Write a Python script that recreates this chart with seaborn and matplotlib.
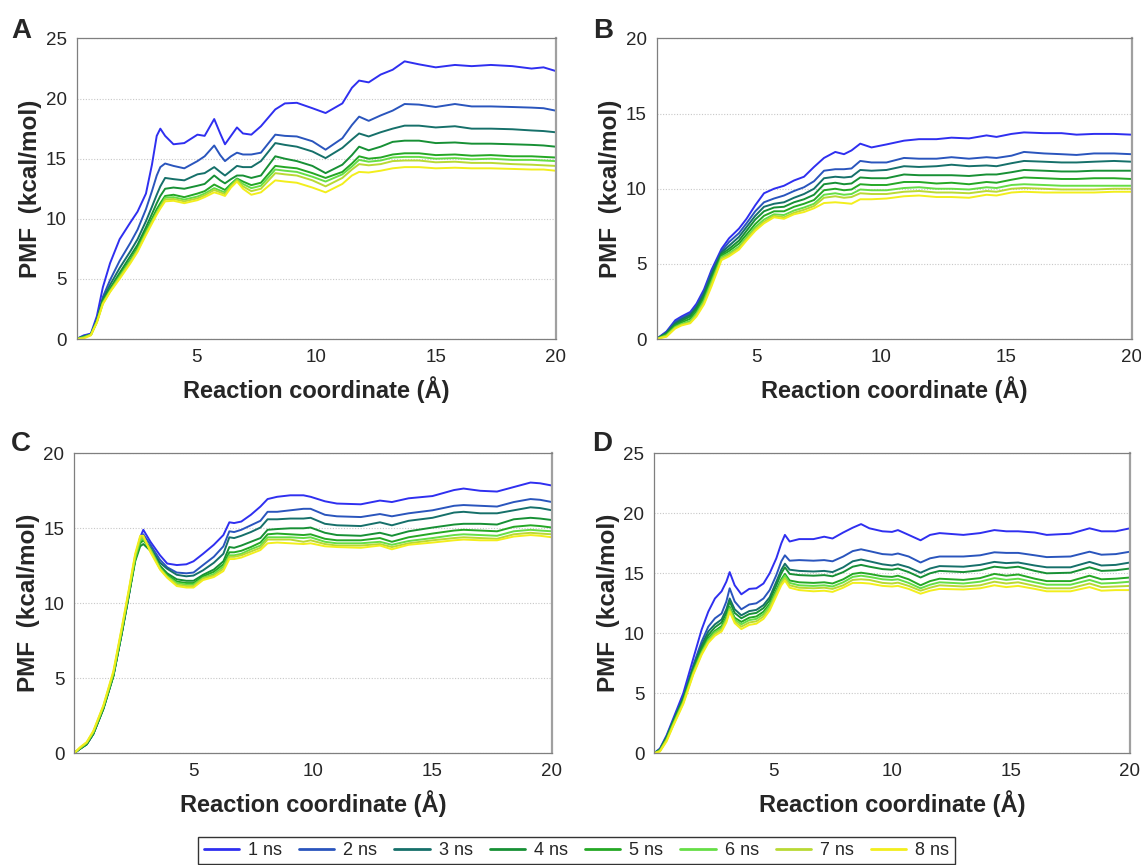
import pandas as pd
import matplotlib
matplotlib.use("Agg")
import matplotlib.pyplot as plt
import seaborn as sns

series = ['1 ns', '2 ns', '3 ns', '4 ns', '5 ns', '6 ns', '7 ns', '8 ns']
colores = ['#2f2ff0', '#2a55bd', '#16706a', '#179035', '#25a825', '#66de46', '#b9d934', '#f2ee1c']

# Panel A
xa = [0.0, 0.3, 0.6, 0.85, 1.1, 1.4, 1.8, 2.25, 2.55, 2.9, 3.15, 3.35, 3.5, 3.7, 4.05, 4.5,
      5.05, 5.35, 5.75, 6.0, 6.2, 6.45, 6.7, 6.95, 7.3, 7.7, 8.3, 8.7, 9.2, 9.85, 10.4, 11.1,
      11.5, 11.8, 12.2, 12.7, 13.2, 13.7, 14.3, 15.0, 15.8, 16.5, 17.3, 18.2, 19.0, 19.5, 20.0]
a_1ns = [0.0, 0.3, 0.45, 1.9, 4.3, 6.3, 8.3, 9.7, 10.6, 12.1, 14.5, 16.9, 17.5, 16.9, 16.2, 16.3,
         17.0, 16.9, 18.3, 17.1, 16.2, 16.9, 17.6, 17.1, 17.0, 17.7, 19.1, 19.6, 19.65, 19.2, 18.8, 19.6,
         20.9, 21.5, 21.35, 22.0, 22.4, 23.1, 22.85, 22.6, 22.8, 22.7, 22.8, 22.7, 22.5, 22.6, 22.3]
a_2ns = [0.0, 0.25, 0.4, 1.6, 3.5, 4.9, 6.5, 8.0, 9.1, 10.8, 12.3, 13.6, 14.3, 14.6, 14.4, 14.2,
         14.8, 15.2, 16.1, 15.3, 14.8, 15.2, 15.5, 15.35, 15.35, 15.5, 17.0, 16.9, 16.85, 16.45, 15.75, 16.7,
         17.8, 18.5, 18.15, 18.6, 19.0, 19.55, 19.5, 19.3, 19.55, 19.35, 19.35, 19.3, 19.25, 19.2, 19.0]
a_3ns = [0.0, 0.2, 0.35, 1.5, 3.3, 4.5, 5.9, 7.3, 8.3, 9.8, 11.0, 12.0, 12.7, 13.4, 13.3, 13.2,
         13.7, 13.8, 14.3, 13.9, 13.6, 14.0, 14.4, 14.3, 14.3, 14.8, 16.3, 16.15, 16.0, 15.6, 15.05, 15.9,
         16.6, 17.1, 16.85, 17.2, 17.5, 17.75, 17.75, 17.6, 17.7, 17.5, 17.5, 17.45, 17.35, 17.3, 17.2]
a_4ns = [0.0, 0.2, 0.35, 1.5, 3.2, 4.2, 5.5, 6.9, 7.85, 9.3, 10.4, 11.3, 11.9, 12.5, 12.6, 12.5,
         12.75, 12.9, 13.6, 13.2, 12.95, 13.3, 13.6, 13.6, 13.4, 13.6, 15.2, 15.0, 14.8, 14.4, 13.8, 14.5,
         15.3, 16.0, 15.7, 16.0, 16.4, 16.5, 16.5, 16.3, 16.35, 16.25, 16.25, 16.2, 16.15, 16.1, 16.0]
a_5ns = [0.0, 0.15, 0.35, 1.45, 3.1, 4.1, 5.3, 6.6, 7.6, 9.0, 10.0, 10.8, 11.3, 11.9, 12.0, 11.8,
         12.1, 12.3, 12.85, 12.6, 12.4, 12.9, 13.35, 13.1, 12.8, 13.0, 14.4, 14.3, 14.2, 13.8, 13.4, 13.9,
         14.6, 15.2, 15.0, 15.1, 15.35, 15.45, 15.45, 15.3, 15.35, 15.25, 15.3, 15.2, 15.2, 15.15, 15.1]
a_6ns = [0.0, 0.15, 0.35, 1.45, 3.0, 4.0, 5.2, 6.5, 7.45, 8.85, 9.8, 10.55, 11.05, 11.75, 11.8, 11.6,
         11.85, 12.1, 12.55, 12.35, 12.2, 12.8, 13.3, 12.9, 12.55, 12.75, 14.1, 14.0, 13.9, 13.5, 13.1, 13.7,
         14.35, 14.9, 14.75, 14.85, 15.1, 15.15, 15.15, 15.0, 15.05, 14.95, 15.0, 14.9, 14.9, 14.85, 14.8]
a_7ns = [0.0, 0.1, 0.35, 1.4, 2.95, 3.95, 5.1, 6.4, 7.35, 8.75, 9.7, 10.45, 10.95, 11.6, 11.65, 11.45,
         11.7, 11.95, 12.4, 12.2, 12.05, 12.7, 13.2, 12.7, 12.3, 12.5, 13.8, 13.7, 13.6, 13.2, 12.7, 13.4,
         14.1, 14.55, 14.45, 14.55, 14.8, 14.85, 14.85, 14.7, 14.75, 14.65, 14.65, 14.55, 14.5, 14.45, 14.4]
a_8ns = [0.0, 0.05, 0.3, 1.35, 2.9, 3.9, 5.0, 6.3, 7.25, 8.65, 9.6, 10.35, 10.85, 11.45, 11.5, 11.3,
         11.55, 11.8, 12.2, 12.05, 11.9, 12.6, 13.1, 12.5, 12.0, 12.2, 13.2, 13.1, 13.0, 12.6, 12.2, 12.9,
         13.6, 13.9, 13.85, 14.0, 14.2, 14.3, 14.3, 14.2, 14.25, 14.2, 14.2, 14.15, 14.1, 14.1, 14.0]

# Panel B
xb = [1.0, 1.4, 1.75, 2.0, 2.35, 2.6, 2.9, 3.2, 3.6, 3.9, 4.3, 4.6, 4.95, 5.3, 5.7, 6.1, 6.5, 6.9,
      7.3, 7.7, 8.15, 8.5, 8.8, 9.15, 9.6, 10.2, 10.9, 11.5, 12.2, 12.8, 13.5, 14.2, 14.6, 15.2,
      15.7, 16.5, 17.2, 17.8, 18.5, 19.3, 20.0]
b_1ns = [0, 0.5, 1.25, 1.5, 1.8, 2.35, 3.3, 4.6, 6.0, 6.7, 7.35, 8.0, 8.9, 9.7, 10.0, 10.2, 10.55, 10.8,
         11.45, 12.05, 12.45, 12.3, 12.55, 13.0, 12.75, 12.95, 13.2, 13.3, 13.3, 13.4, 13.35, 13.55, 13.45,
         13.65, 13.75, 13.7, 13.7, 13.6, 13.65, 13.65, 13.6]
b_2ns = [0, 0.45, 1.15, 1.4, 1.7, 2.2, 3.15, 4.45, 5.85, 6.45, 7.05, 7.7, 8.5, 9.1, 9.35, 9.55, 9.85, 10.1,
         10.5, 11.2, 11.3, 11.3, 11.35, 11.85, 11.75, 11.75, 12.05, 12.0, 12.0, 12.1, 12.0, 12.1, 12.05,
         12.2, 12.45, 12.35, 12.3, 12.25, 12.35, 12.35, 12.3]
b_3ns = [0, 0.4, 1.05, 1.3, 1.6, 2.1, 3.0, 4.3, 5.75, 6.2, 6.8, 7.45, 8.2, 8.8, 9.0, 9.1, 9.4, 9.65,
         10.0, 10.7, 10.8, 10.75, 10.8, 11.25, 11.2, 11.25, 11.5, 11.45, 11.5, 11.6, 11.5, 11.55, 11.5,
         11.7, 11.85, 11.8, 11.75, 11.75, 11.8, 11.85, 11.8]
b_4ns = [0, 0.35, 0.95, 1.2, 1.5, 2.0, 2.85, 4.1, 5.65, 6.0, 6.55, 7.2, 7.95, 8.5, 8.75, 8.8, 9.1, 9.3,
         9.6, 10.3, 10.4, 10.3, 10.35, 10.75, 10.7, 10.7, 10.95, 10.9, 10.9, 10.9, 10.85, 10.95, 10.95,
         11.1, 11.25, 11.2, 11.15, 11.15, 11.2, 11.2, 11.2]
b_5ns = [0, 0.3, 0.9, 1.1, 1.35, 1.85, 2.7, 3.95, 5.55, 5.85, 6.35, 6.95, 7.65, 8.2, 8.5, 8.5, 8.8, 9.0,
         9.25, 9.9, 10.0, 9.9, 9.95, 10.3, 10.25, 10.25, 10.45, 10.45, 10.35, 10.4, 10.3, 10.45, 10.4,
         10.6, 10.75, 10.7, 10.65, 10.65, 10.7, 10.7, 10.65]
b_6ns = [0, 0.25, 0.8, 1.0, 1.2, 1.7, 2.55, 3.8, 5.45, 5.7, 6.15, 6.75, 7.45, 7.95, 8.3, 8.25, 8.55, 8.75,
         9.0, 9.6, 9.7, 9.6, 9.65, 9.95, 9.9, 9.9, 10.05, 10.1, 10.0, 10.0, 9.95, 10.1, 10.05,
         10.25, 10.3, 10.25, 10.2, 10.2, 10.2, 10.2, 10.2]
b_7ns = [0, 0.2, 0.75, 0.95, 1.1, 1.6, 2.4, 3.65, 5.35, 5.6, 6.05, 6.65, 7.3, 7.8, 8.2, 8.1, 8.4, 8.6,
         8.85, 9.4, 9.5, 9.4, 9.45, 9.7, 9.65, 9.65, 9.8, 9.85, 9.75, 9.75, 9.7, 9.85, 9.8,
         10.0, 10.05, 10.0, 9.95, 9.95, 9.95, 10.0, 10.0]
b_8ns = [0, 0.15, 0.7, 0.9, 1.05, 1.5, 2.3, 3.5, 5.25, 5.5, 5.95, 6.55, 7.2, 7.7, 8.1, 8.0, 8.3, 8.45,
         8.7, 9.05, 9.1, 9.05, 9.0, 9.3, 9.3, 9.35, 9.5, 9.55, 9.45, 9.45, 9.4, 9.6, 9.55,
         9.75, 9.8, 9.75, 9.75, 9.75, 9.75, 9.8, 9.8]

# Panel C
xc = [0.0, 0.25, 0.53, 0.81, 1.23, 1.65, 2.0, 2.28, 2.56, 2.77, 2.9, 3.2, 3.6, 3.9, 4.3, 4.7, 5.0,
      5.4, 5.85, 6.25, 6.5, 6.7, 7.0, 7.4, 7.8, 8.1, 8.5, 9.05, 9.6, 9.9, 10.5, 11.0, 12.0, 12.8,
      13.3, 14.0, 15.0, 15.9, 16.3, 17.0, 17.7, 18.4, 19.1, 19.5, 20.0]
c_1ns = [0, 0.3, 0.6, 1.3, 3.0, 5.2, 8.0, 10.4, 13.0, 14.4, 14.9, 14.1, 13.2, 12.65, 12.55, 12.6, 12.8,
         13.3, 13.9, 14.55, 15.4, 15.35, 15.45, 15.9, 16.45, 16.95, 17.1, 17.2, 17.2, 17.1, 16.8, 16.65,
         16.6, 16.85, 16.75, 17.0, 17.15, 17.55, 17.65, 17.5, 17.45, 17.75, 18.05, 18.0, 17.85]
c_2ns = [0, 0.3, 0.6, 1.3, 3.0, 5.2, 8.05, 10.45, 13.0, 14.3, 14.6, 13.9, 12.9, 12.4, 12.05, 12.0, 12.05,
         12.55, 13.1, 13.8, 14.8, 14.75, 14.9, 15.2, 15.5, 16.1, 16.1, 16.2, 16.3, 16.3, 15.9, 15.8,
         15.75, 15.95, 15.8, 16.0, 16.2, 16.5, 16.55, 16.5, 16.45, 16.75, 16.95, 16.9, 16.75]
c_3ns = [0, 0.3, 0.6, 1.3, 3.0, 5.2, 8.05, 10.45, 12.95, 14.2, 14.3, 13.7, 12.7, 12.3, 11.9, 11.8, 11.85,
         12.2, 12.7, 13.3, 14.4, 14.35, 14.5, 14.75, 15.05, 15.6, 15.6, 15.65, 15.65, 15.7, 15.3, 15.2,
         15.15, 15.4, 15.2, 15.5, 15.7, 16.05, 16.1, 16.0, 16.0, 16.2, 16.4, 16.35, 16.2]
c_4ns = [0, 0.3, 0.6, 1.3, 2.95, 5.15, 8.0, 10.4, 12.8, 13.8, 13.95, 13.5, 12.5, 12.0, 11.6, 11.5, 11.5,
         11.9, 12.25, 12.8, 13.75, 13.7, 13.85, 14.1, 14.35, 14.9, 14.95, 15.0, 15.0, 15.05, 14.7, 14.55,
         14.5, 14.7, 14.5, 14.8, 15.05, 15.25, 15.3, 15.3, 15.25, 15.6, 15.7, 15.65, 15.55]
c_5ns = [0, 0.3, 0.65, 1.35, 3.05, 5.25, 8.1, 10.5, 12.9, 14.0, 14.2, 13.6, 12.4, 11.9, 11.45, 11.35, 11.35,
         11.8, 12.1, 12.6, 13.4, 13.4, 13.5, 13.75, 14.05, 14.6, 14.65, 14.6, 14.55, 14.6, 14.3, 14.2,
         14.2, 14.35, 14.1, 14.4, 14.65, 14.85, 14.9, 14.85, 14.8, 15.1, 15.2, 15.15, 15.05]
c_6ns = [0, 0.35, 0.7, 1.4, 3.1, 5.3, 8.2, 10.6, 13.0, 14.2, 14.3, 13.6, 12.35, 11.8, 11.35, 11.25, 11.25,
         11.7, 11.95, 12.45, 13.2, 13.2, 13.3, 13.6, 13.85, 14.4, 14.4, 14.4, 14.35, 14.4, 14.1, 14.0,
         14.0, 14.1, 13.9, 14.15, 14.35, 14.55, 14.6, 14.55, 14.5, 14.8, 14.9, 14.85, 14.8]
c_7ns = [0, 0.35, 0.7, 1.45, 3.15, 5.4, 8.3, 10.7, 13.2, 14.35, 14.4, 13.5, 12.3, 11.75, 11.25, 11.15, 11.15,
         11.65, 11.85, 12.3, 13.1, 13.1, 13.2, 13.45, 13.7, 14.25, 14.25, 14.25, 14.1, 14.2, 13.95, 13.85,
         13.85, 13.95, 13.75, 14.0, 14.2, 14.35, 14.4, 14.35, 14.3, 14.6, 14.7, 14.65, 14.6]
c_8ns = [0, 0.4, 0.75, 1.5, 3.2, 5.5, 8.4, 10.8, 13.3, 14.5, 14.5, 13.4, 12.25, 11.7, 11.15, 11.05, 11.05,
         11.55, 11.75, 12.15, 12.95, 12.95, 13.05, 13.3, 13.55, 14.0, 14.05, 14.0, 13.95, 14.0, 13.8, 13.75,
         13.7, 13.85, 13.6, 13.9, 14.05, 14.2, 14.25, 14.2, 14.2, 14.45, 14.55, 14.5, 14.4]

# Panel D
xd = [0.0, 0.25, 0.53, 0.81, 1.23, 1.65, 2.0, 2.28, 2.56, 2.84, 3.04, 3.18, 3.39, 3.67, 4.0, 4.3,
      4.6, 4.86, 5.14, 5.35, 5.5, 5.7, 6.1, 6.7, 7.15, 7.5, 7.95, 8.35, 8.7, 9.05, 9.6, 10.0, 10.25,
      10.7, 11.2, 11.6, 12.0, 13.0, 13.7, 14.3, 14.8, 15.3, 16.0, 16.5, 17.5, 18.3, 18.8, 19.4, 20.0]
d_1ns = [0, 0.4, 1.5, 2.9, 5.0, 7.9, 10.3, 11.8, 12.9, 13.5, 14.3, 15.1, 14.0, 13.25, 13.7, 13.75,
         14.15, 15.0, 16.25, 17.5, 18.2, 17.65, 17.85, 17.85, 18.05, 17.9, 18.4, 18.8, 19.1, 18.75, 18.5,
         18.45, 18.6, 18.2, 17.75, 18.2, 18.35, 18.2, 18.35, 18.6, 18.5, 18.5, 18.4, 18.2, 18.3, 18.75,
         18.5, 18.5, 18.75]
d_2ns = [0, 0.35, 1.4, 2.75, 4.7, 7.35, 9.3, 10.55, 11.25, 11.65, 12.65, 13.75, 12.65, 12.0, 12.4, 12.5,
         12.9, 13.6, 14.85, 16.0, 16.5, 16.05, 16.1, 16.05, 16.1, 16.0, 16.4, 16.85, 17.0, 16.85, 16.6,
         16.55, 16.65, 16.4, 15.9, 16.25, 16.4, 16.4, 16.5, 16.75, 16.7, 16.7, 16.5, 16.35, 16.4, 16.8,
         16.55, 16.6, 16.8]
d_3ns = [0, 0.3, 1.35, 2.7, 4.6, 7.15, 9.0, 10.15, 10.75, 11.15, 12.0, 12.9, 12.0, 11.5, 11.85, 11.95,
         12.35, 13.0, 14.3, 15.3, 15.8, 15.3, 15.2, 15.15, 15.2, 15.1, 15.5, 16.0, 16.15, 16.0, 15.75,
         15.65, 15.75, 15.5, 15.05, 15.4, 15.6, 15.55, 15.7, 15.95, 15.85, 15.9, 15.65, 15.5, 15.5, 15.95,
         15.65, 15.7, 15.9]
d_4ns = [0, 0.3, 1.3, 2.6, 4.5, 7.0, 8.75, 9.85, 10.5, 10.9, 11.7, 12.65, 11.7, 11.25, 11.6, 11.7,
         12.1, 12.75, 14.0, 15.0, 15.5, 14.95, 14.85, 14.8, 14.85, 14.75, 15.1, 15.55, 15.7, 15.55, 15.35,
         15.3, 15.4, 15.1, 14.65, 15.0, 15.2, 15.1, 15.25, 15.55, 15.45, 15.55, 15.2, 15.0, 15.05, 15.5,
         15.2, 15.25, 15.4]
d_5ns = [0, 0.25, 1.2, 2.5, 4.4, 6.85, 8.55, 9.6, 10.2, 10.6, 11.35, 12.2, 11.3, 10.95, 11.3, 11.4,
         11.8, 12.45, 13.6, 14.5, 14.95, 14.4, 14.25, 14.2, 14.25, 14.15, 14.5, 14.95, 15.05, 14.95, 14.75,
         14.7, 14.8, 14.5, 14.0, 14.35, 14.55, 14.45, 14.6, 14.95, 14.8, 14.9, 14.55, 14.35, 14.35, 14.8,
         14.5, 14.55, 14.65]
d_6ns = [0, 0.2, 1.15, 2.45, 4.3, 6.75, 8.4, 9.45, 10.1, 10.45, 11.2, 12.1, 11.15, 10.75, 11.1, 11.2,
         11.6, 12.3, 13.45, 14.35, 14.8, 14.2, 14.0, 13.95, 14.0, 13.9, 14.25, 14.7, 14.8, 14.7, 14.5,
         14.45, 14.5, 14.2, 13.75, 14.05, 14.25, 14.15, 14.3, 14.6, 14.45, 14.55, 14.25, 14.05, 14.05, 14.45,
         14.15, 14.2, 14.3]
d_7ns = [0, 0.2, 1.1, 2.35, 4.2, 6.65, 8.3, 9.3, 9.95, 10.3, 11.05, 11.95, 11.0, 10.55, 10.9, 11.0,
         11.4, 12.1, 13.3, 14.2, 14.6, 14.0, 13.8, 13.75, 13.8, 13.7, 14.0, 14.45, 14.5, 14.45, 14.2,
         14.15, 14.22, 13.95, 13.55, 13.8, 14.0, 13.9, 14.0, 14.3, 14.15, 14.25, 13.95, 13.75, 13.75, 14.15,
         13.85, 13.9, 13.95]
d_8ns = [0, 0.15, 1.0, 2.3, 4.1, 6.55, 8.2, 9.2, 9.8, 10.15, 10.9, 11.8, 10.85, 10.35, 10.7, 10.8,
         11.2, 11.9, 13.1, 14.0, 14.4, 13.8, 13.6, 13.5, 13.55, 13.45, 13.8, 14.2, 14.2, 14.15, 13.95,
         13.9, 13.95, 13.7, 13.3, 13.55, 13.7, 13.65, 13.75, 14.0, 13.85, 13.95, 13.7, 13.5, 13.5, 13.85,
         13.55, 13.6, 13.6]

# letra: (x, curvas, ymax, xmin)
paneles = {
    'A': (xa, [a_1ns, a_2ns, a_3ns, a_4ns, a_5ns, a_6ns, a_7ns, a_8ns], 25, 0),
    'B': (xb, [b_1ns, b_2ns, b_3ns, b_4ns, b_5ns, b_6ns, b_7ns, b_8ns], 20, 1),
    'C': (xc, [c_1ns, c_2ns, c_3ns, c_4ns, c_5ns, c_6ns, c_7ns, c_8ns], 20, 0),
    'D': (xd, [d_1ns, d_2ns, d_3ns, d_4ns, d_5ns, d_6ns, d_7ns, d_8ns], 25, 0),
}

W, H = 1141, 865
# cajas de los ejes en pixeles: izquierda, derecha, arriba, abajo
cajas = {
    'A': (76.5, 555.5, 38.5, 339),
    'B': (656.5, 1131.5, 38.5, 339),
    'C': (74, 552, 453.3, 753.3),
    'D': (654, 1130, 453.3, 753.3),
}
letras_pos = {'A': (11, 18), 'B': (593, 18), 'C': (11, 431), 'D': (592, 431)}

sns.set_style('white')
plt.rcParams['font.family'] = ['Liberation Sans', 'DejaVu Sans']

fig = plt.figure(figsize=(W / 100, H / 100), dpi=100)
paleta = dict(zip(series, colores))
handles, labels = None, None

for letra, (x, curvas, ymax, xmin) in paneles.items():
    l, r, t, b = cajas[letra]
    ax = fig.add_axes([l / W, 1 - b / H, (r - l) / W, (b - t) / H])

    df = pd.DataFrame({'x': x})
    for s, y in zip(series, curvas):
        df[s] = y
    df = df.melt(id_vars='x', var_name='Serie', value_name='PMF')

    sns.lineplot(data=df, x='x', y='PMF', hue='Serie', palette=paleta, linewidth=1.4,
                 estimator=None, sort=False, ax=ax, legend=(letra == 'A'))
    if letra == 'A':
        handles, labels = ax.get_legend_handles_labels()
        ax.get_legend().remove()

    ax.set_xlim(xmin, 20)
    ax.set_ylim(0, ymax)
    ax.set_xticks([5, 10, 15, 20])
    ax.set_xticks([2.5, 7.5, 12.5, 17.5], minor=True)
    ax.set_yticks(list(range(0, ymax + 1, 5)))
    ax.set_yticks([v + 2.5 for v in range(0, ymax, 5)], minor=True)
    ax.tick_params(axis='both', which='major', labelsize=13.5, length=4, width=0.8,
                   color='#808080', pad=3)
    ax.tick_params(axis='both', which='minor', length=2.5, width=0.8, color='#808080')

    ax.grid(False)
    ax.yaxis.grid(True, which='major', linestyle=(0, (1, 1.5)), color='#c8c8c8', linewidth=0.8)
    ax.set_axisbelow(True)
    for lado, sp in ax.spines.items():
        sp.set_color('#7f7f7f')
        sp.set_linewidth(0.9)
    ax.spines['right'].set_color('#a0a0a0')
    ax.spines['right'].set_linewidth(1.6)

    ax.set_xlabel('Reaction coordinate (Å)', fontsize=17, fontweight='bold')
    ax.set_ylabel('PMF  (kcal/mol)', fontsize=17.5, fontweight='bold')
    ax.xaxis.set_label_coords(0.5, -0.122)
    ax.yaxis.set_label_coords(-0.072, 0.5)

    px, py = letras_pos[letra]
    fig.text(px / W, 1 - py / H, letra, fontsize=20, fontweight='bold', ha='left', va='top')

leg = fig.legend(handles, labels, loc='center', bbox_to_anchor=(576.5 / W, 1 - 850.5 / H),
                 ncol=8, frameon=True, fancybox=False, edgecolor='black', fontsize=13,
                 handlelength=1.95, handletextpad=0.5, columnspacing=0.95, borderpad=0.3,
                 borderaxespad=0)
leg.get_frame().set_linewidth(1.0)
for linea in leg.get_lines():
    linea.set_linewidth(2.0)

fig.savefig('out.png', dpi=100)
